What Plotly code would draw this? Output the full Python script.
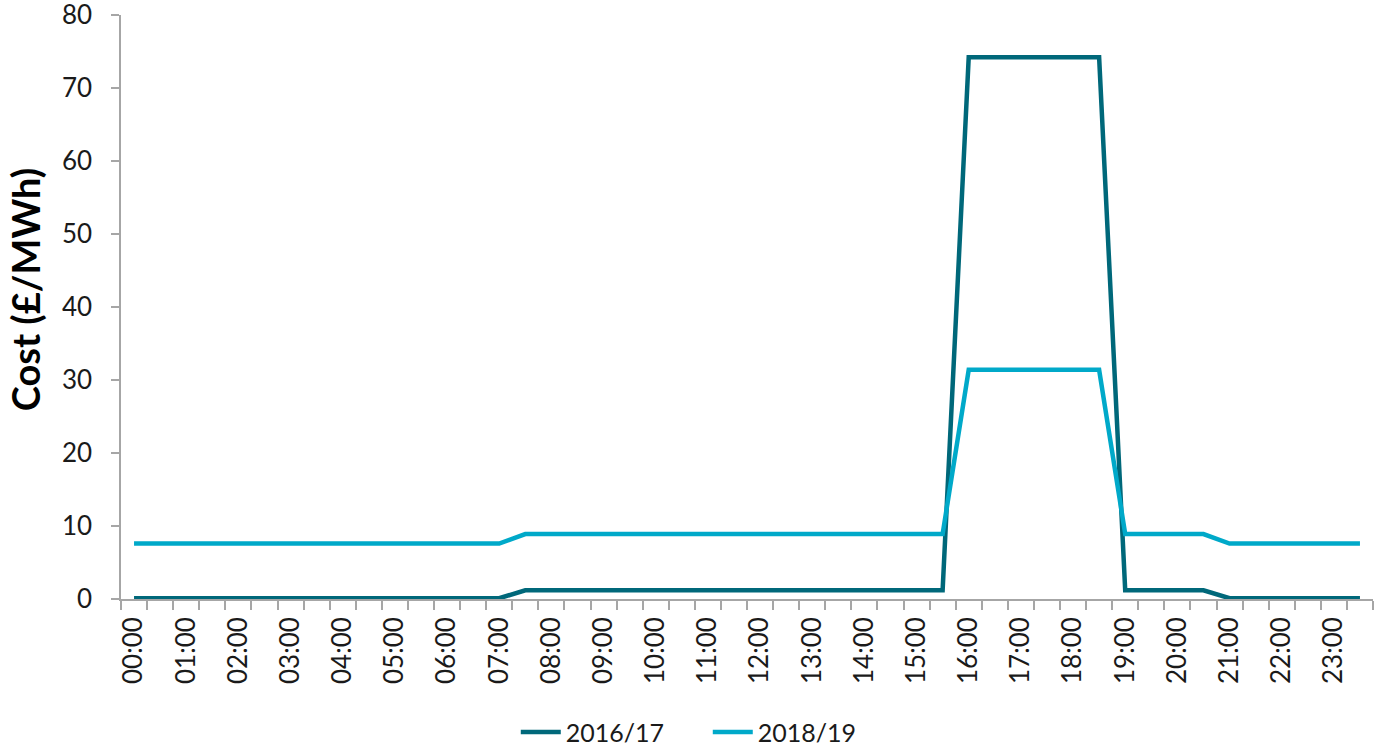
import plotly.graph_objects as go

times = [f"{h:02d}:{m:02d}" for h in range(24) for m in (0, 30)]

cost_2016_17 = [0.1]*15 + [1.2]*17 + [74.2]*6 + [1.2]*4 + [0.1]*6
cost_2018_19 = [7.6]*15 + [8.9]*17 + [31.4]*6 + [8.9]*4 + [7.6]*6

y_ticks = [0, 10, 20, 30, 40, 50, 60, 70, 80]
tick_text = [t if t.endswith(":00") else "" for t in times]

FONT = "Lato"
fig = go.Figure()
fig.add_trace(go.Scatter(x=times, y=cost_2016_17, mode="lines", name="2016/17",
                         line=dict(color="#00687A", width=4.5), cliponaxis=False))
fig.add_trace(go.Scatter(x=times, y=cost_2018_19, mode="lines", name="2018/19",
                         line=dict(color="#00A9C9", width=4.5), cliponaxis=False))

fig.update_layout(
    width=1377, height=750,
    margin=dict(l=121, r=4, t=15, b=151, autoexpand=False),
    paper_bgcolor="white", plot_bgcolor="white",
    font=dict(family=FONT, size=26, color="#1a1a1a"),
    showlegend=True,
    legend=dict(orientation="h", xref="container", yref="paper",
                x=0.514, xanchor="center", y=-0.228, yanchor="middle",
                font=dict(size=25), itemwidth=40, entrywidth=137, tracegroupgap=0),
    annotations=[dict(text="<b>Cost (£/MWh)</b>", xref="paper", yref="paper",
                      x=-0.076, y=0.53, xanchor="center", yanchor="middle",
                      textangle=-90, showarrow=False,
                      font=dict(family=FONT, size=38, color="black"))],
)
fig.update_xaxes(
    type="category", tickmode="array", tickvals=times, ticktext=tick_text,
    tickson="boundaries", ticks="outside", ticklen=9, tickcolor="#A6A6A6",
    tickwidth=1.5, tickangle=-90, showline=True, linecolor="#A6A6A6",
    linewidth=1.5, showgrid=False, zeroline=False, ticklabelstandoff=6,
    range=[-0.5, 47.5], automargin=False,
)
fig.update_yaxes(
    range=[0, 80], tickmode="array", tickvals=y_ticks, ticks="outside", ticklen=8,
    tickcolor="#A6A6A6", tickwidth=1.5, showline=True, linecolor="#A6A6A6",
    linewidth=1.5, showgrid=False, zeroline=False, ticklabelstandoff=14,
    ticklabeloverflow="allow", automargin=False,
)
fig.write_html("out.html")
